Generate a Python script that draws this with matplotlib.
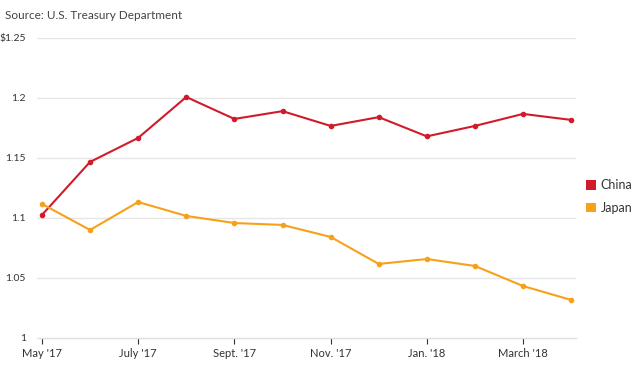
import numpy as np
import matplotlib
matplotlib.use('Agg')
import matplotlib.pyplot as plt
from matplotlib.patches import Patch

# holdings, trillions of dollars
months = list(range(12))  # May '17 .. April '18
china = [1.1025, 1.1467, 1.1667, 1.2008, 1.1825, 1.189, 1.1767, 1.184, 1.168, 1.1767, 1.1867, 1.1817]
japan = [1.1117, 1.090, 1.1133, 1.1017, 1.0958, 1.0942, 1.0842, 1.0617, 1.0658, 1.060, 1.0433, 1.0317]
xtick_pos = [0, 2, 4, 6, 8, 10]
xtick_labels = ["May '17", "July '17", "Sept. '17", "Nov. '17", "Jan. '18", "March '18"]
ytick_vals = [1.0, 1.05, 1.1, 1.15, 1.2, 1.25]
ytick_labels = ['1', '1.05', '1.1', '1.15', '1.2', '$1.25']

plt.rcParams['font.family'] = ['Lato', 'DejaVu Sans']

red = '#d01c2a'
orange = '#f7a11a'

fig = plt.figure(figsize=(6.4, 3.72), dpi=100)
ax = fig.add_axes([0.058, 0.0914, 0.842, 0.8066])

ax.plot(months, china, color=red, lw=1.5, marker='o', ms=3, zorder=3)
ax.plot(months, japan, color=orange, lw=1.5, marker='o', ms=3, zorder=3)

ax.set_xlim(-0.1, 11.1)
ax.set_ylim(1.0, 1.25)
ax.set_yticks(ytick_vals)
ax.set_yticklabels(ytick_labels)
ax.set_xticks(xtick_pos)
ax.set_xticklabels(xtick_labels)

for v in ytick_vals[1:]:
    ax.axhline(v, color='#e6e6e6', lw=1, zorder=1)

for s in ['top', 'right', 'left']:
    ax.spines[s].set_visible(False)
ax.spines['bottom'].set_color('#e0e0e0')
ax.spines['bottom'].set_linewidth(1)

ax.tick_params(axis='y', length=0, labelsize=7.5, labelcolor='#333333', pad=8)
ax.tick_params(axis='x', length=4, width=0.8, color='#333333', labelsize=8,
               labelcolor='#333333', pad=3)

fig.text(0.008, 0.948, 'Source: U.S. Treasury Department', fontsize=8.5, color='#444444')

handles = [Patch(facecolor=red, label='China'), Patch(facecolor=orange, label='Japan')]
fig.legend(handles=handles, loc='upper left', bbox_to_anchor=(0.915, 0.518), frameon=False,
           fontsize=9, handlelength=0.8, handleheight=0.8, handletextpad=0.4,
           labelspacing=0.85, labelcolor='#333333', borderpad=0, borderaxespad=0)

fig.savefig('out.png', dpi=100)
